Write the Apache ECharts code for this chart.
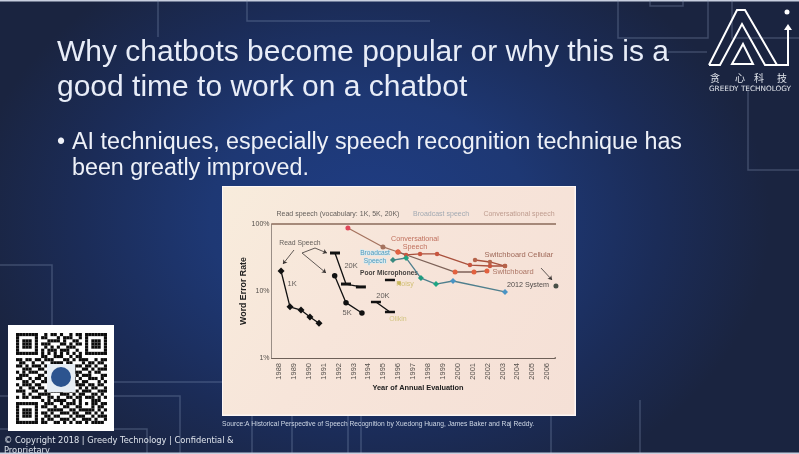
<!DOCTYPE html>
<html>
<head>
<meta charset="utf-8">
<title>Speech recognition word error rate</title>
<script src="https://cdn.jsdelivr.net/npm/echarts@6/dist/echarts.min.js"></script>
<style>
html, body { margin: 0; padding: 0; background: #1a2440; }
#main {
    width: 799px; height: 454px; overflow: hidden;
    background: radial-gradient(ellipse 400px 300px at 370px 220px, #1f3d84 0%, #1e3874 40%, #1b2c58 72%, #1a2440 100%);
}
</style>
</head>
<body>
<div id="main"></div>
<script>
var years = ['1988','1989','1990','1991','1992','1993','1994','1995','1996','1997','1998','1999','2000','2001','2002','2003','2004','2005','2006'];
var rateTicks = [1, 10, 100];

// year, word error rate %
var read1kX = [1988.14, 1988.74, 1989.48, 1990.08, 1990.69];
var read1kY = [19.9, 5.8, 5.2, 4.1, 3.3];
var read5kX = [1991.74, 1992.5, 1993.57];
var read5kY = [16.9, 6.7, 4.7];
var read20kX = [1991.76, 1992.5, 1993.5];
var read20kY = [36.9, 12.7, 11.5];
var noisy20kX = [1994.51, 1995.45];
var noisy20kY = [6.85, 4.86];
var poorMicX = [1995.45];
var poorMicY = [14.6];
var noisyX = [1996.06];
var noisyY = [13.2];
var broadcastX = [1995.65, 1996.53, 1997.53, 1998.54, 1999.68, 2003.17];
var broadcastY = [29.0, 31.1, 15.6, 12.7, 14.1, 9.7];
var conversationalX = [1992.63, 1994.98, 1995.99];
var conversationalY = [87.1, 45.4, 38.2];
var conversationalUpperX = [1995.99, 1996.53, 1997.47, 1998.61, 2000.82, 2002.16, 2003.17];
var conversationalUpperY = [38.2, 34.5, 35.7, 35.7, 24.4, 23.6, 23.6];
var switchboardX = [1995.99, 1999.82, 2001.09, 2001.96];
var switchboardY = [38.2, 19.2, 19.2, 19.9];
var cellularX = [2001.16, 2002.16, 2003.17];
var cellularY = [29.0, 27.1, 23.6];
var system2012X = [2006.59];
var system2012Y = [11.9];

var noteTexts = ['Read speech (vocabulary: 1K, 5K, 20K)', 'Broadcast speech', 'Conversational speech', 'Read Speech', '1K', '20K', '5K', '20K', 'Olikin', 'Poor Microphones', 'Noisy', 'Broadcast\nSpeech', 'Conversational\nSpeech', 'Switchboard Cellular', 'Switchboard', '2012 System'];
var noteX = [1991.96, 1998.88, 2004.11, 1989.41, 1988.88, 1992.84, 1992.57, 1994.98, 1995.99, 1995.39, 1996.46, 1994.45, 1997.13, 2004.1, 2003.71, 2004.71];
var noteY = [141, 141, 141, 52, 12.7, 23.6, 4.7, 8.4, 3.82, 18.6, 12.7, 32.2, 51.2, 34.5, 19.2, 12.3];

var noteColors = ['#3c3a38', '#8c9aa8', '#b08a7c', '#3c3a38', '#3c3a38', '#3c3a38', '#3c3a38', '#3c3a38', '#c9bd6a', '#111111', '#c9b75c', '#2f86b0', '#b2503c', '#8a4a38', '#9a5a48', '#222222'];
var noteSizes = [7, 7, 7, 6.8, 7.5, 7.5, 7.5, 7.5, 7, 6.6, 7, 6.6, 7.2, 7.5, 7.5, 7.2];
var broadcastDots = ['#3a8a80', '#1fa583', '#1f9a80', '#1fa583', '#4a94c4', '#4a94c4'];
var conversationalDots = ['#e0485a', '#a5735f', '#e0485a'];

var qrRows = [
    '11111110010110100101101111111',
    '10000010110001011100101000001',
    '10111010001111010011001011101',
    '10111010111000110101101011101',
    '10111010010101001110001011101',
    '10000010101110111001001000001',
    '11111110101010101010101111111',
    '00000000110011100101100000000',
    '11011011011100011010111001011',
    '01100100100111101100010110110',
    '11010111011000110011101101001',
    '00111001101101001110011010111',
    '10101110010000000011100101100',
    '01110001100000000001011100011',
    '11001011010000000010100111010',
    '00110100110000000011011000101',
    '10111011000000000001110110110',
    '01001101101100011100101011001',
    '11100110010111100101011100111',
    '00101001111000111010110011010',
    '10110111001101001101101110101',
    '00000000101011110010100011100',
    '11111110011100101110101011011',
    '10000010110010011001100010110',
    '10111010001111100110111110101',
    '10111010110100111011001101010',
    '10111010011011000101110010111',
    '10000010101100111010011101001',
    '11111110110011010101101011110'
];

function zip(xs, ys) {
    return xs.map(function (x, i) { return [x, ys[i]]; });
}

function lineSeries(name, xs, ys, color, symbol, size, dotColor) {
    return {
        name: name,
        type: 'line',
        xAxisIndex: 1,
        clip: false,
        silent: true,
        symbol: symbol,
        symbolSize: size,
        showAllSymbol: true,
        lineStyle: { color: color, width: 1.3 },
        itemStyle: { color: dotColor || color },
        data: zip(xs, ys)
    };
}

function txt(text, x, y, font, fill, align) {
    return {
        type: 'text', z: 5, silent: true,
        style: { text: text, x: x, y: y, font: font, fill: fill, align: align || 'left', verticalAlign: 'middle' }
    };
}

function path(points, closed, stroke, width) {
    return {
        type: closed ? 'polygon' : 'polyline', silent: true, z: 1,
        shape: { points: points },
        style: { stroke: stroke, lineWidth: width, fill: null }
    };
}

function buildQr() {
    var items = [{ type: 'rect', silent: true, z: 1, shape: { x: 8, y: 325, width: 106, height: 106 }, style: { fill: '#ffffff' } }];
    var cell = 91 / 29;
    qrRows.forEach(function (row, r) {
        row.split('').forEach(function (c, k) {
            if (c === '1') {
                items.push({ type: 'rect', silent: true, z: 2, shape: { x: 16 + k * cell, y: 333 + r * cell, width: cell, height: cell }, style: { fill: '#0c0c0c' } });
            }
        });
    });
    items.push({ type: 'rect', silent: true, z: 3, shape: { x: 47, y: 364, width: 28, height: 28 }, style: { fill: '#e6edf4' } });
    items.push({ type: 'circle', silent: true, z: 4, shape: { cx: 61, cy: 377, r: 10 }, style: { fill: '#2c548f' } });
    return items;
}

var faint = 'rgba(150,165,195,0.3)';
var backgroundLines = [
    [[158, 0], [158, 37]],
    [[247, 0], [247, 21], [430, 21]],
    [[618, 0], [618, 38], [708, 38], [708, 0]],
    [[650, 0], [650, 6], [683, 6], [683, 0]],
    [[668, 52], [707, 52]],
    [[732, 0], [732, 38], [799, 38]],
    [[748, 90], [748, 170], [799, 170]],
    [[0, 265], [52, 265], [52, 325]],
    [[114, 382], [222, 382]],
    [[0, 396], [180, 396], [180, 454]],
    [[0, 429], [147, 429], [147, 454]],
    [[252, 416], [252, 454]],
    [[292, 416], [292, 454]],
    [[348, 416], [348, 454]],
    [[361, 416], [361, 454]],
    [[551, 416], [551, 454]],
    [[640, 400], [640, 454]]
];

var slideGraphics = [
    {
        type: 'rect', z: 0, silent: true,
        shape: { x: 222, y: 186, width: 354, height: 230 },
        style: { fill: '#fdf6f4' }
    },
    {
        type: 'rect', z: 0, silent: true,
        shape: { x: 223, y: 187, width: 351.5, height: 227.5 },
        style: {
            fill: new echarts.graphic.LinearGradient(0, 0, 1, 1, [
                { offset: 0, color: '#f8ecdc' },
                { offset: 0.4, color: '#f7e5da' },
                { offset: 1, color: '#f5e0d6' }
            ])
        }
    },
    { type: 'rect', z: 0, silent: true, shape: { x: 0, y: 0, width: 799, height: 1.5 }, style: { fill: '#c8cfdf' } },
    { type: 'rect', z: 6, silent: true, shape: { x: 0, y: 452.5, width: 799, height: 1.5 }, style: { fill: '#c8cfdf' } }
];
backgroundLines.forEach(function (pts) {
    slideGraphics.push(path(pts, false, faint, 1.5));
});
slideGraphics = slideGraphics.concat(buildQr());
slideGraphics.push(
    path([[709, 65], [737, 10], [745, 10], [777, 65], [788, 65], [788, 28]], false, '#ffffff', 2),
    path([[709, 65], [720, 65], [742, 24], [765, 65], [777, 65]], false, '#ffffff', 2),
    path([[732, 64], [743, 44], [753, 64]], true, '#ffffff', 2),
    { type: 'polygon', silent: true, z: 2, shape: { points: [[784, 30], [788, 24], [792, 30]] }, style: { fill: '#ffffff' } },
    { type: 'circle', silent: true, z: 2, shape: { cx: 787, cy: 12, r: 2.5 }, style: { fill: '#ffffff' } },
    txt('贪', 715, 78, '10px "Noto Sans CJK SC"', '#dfe3ea', 'center'),
    txt('心', 740, 78, '10px "Noto Sans CJK SC"', '#dfe3ea', 'center'),
    txt('科', 759, 78, '10px "Noto Sans CJK SC"', '#dfe3ea', 'center'),
    txt('技', 782, 78, '10px "Noto Sans CJK SC"', '#dfe3ea', 'center'),
    txt('GREEDY TECHNOLOGY', 750, 89.5, '7.3px "DejaVu Sans"', '#e6e9ef', 'center'),
    txt('Why chatbots become popular or why this is a', 57, 53, '30px "Liberation Sans"', '#e8edf8'),
    txt('good time to work on a chatbot', 57, 88, '30px "Liberation Sans"', '#e8edf8'),
    txt('•', 57, 143, '23px "Liberation Sans"', '#eef1f8'),
    txt('AI techniques, especially speech recognition technique has', 72, 143, '23.3px "Liberation Sans"', '#eef1f8'),
    txt('been greatly improved.', 72, 169, '23.3px "Liberation Sans"', '#eef1f8'),
    txt('Source:A Historical Perspective of Speech Recognition by Xuedong Huang, James Baker and Raj Reddy.', 222, 424, '6.7px "Liberation Sans"', '#cfd8e6'),
    txt('© Copyright 2018 | Greedy Technology | Confidential &', 4, 441, '8.3px "DejaVu Sans"', '#dfe4ec'),
    txt('Proprietary', 4, 451, '8.3px "DejaVu Sans"', '#dfe4ec')
);

var chart = echarts.init(document.getElementById('main'));

var option = {
    animation: false,
    backgroundColor: 'transparent',
    textStyle: { fontFamily: '"Liberation Sans"' },
    graphic: { elements: slideGraphics },
    grid: { left: 271.5, top: 224, width: 283.1, height: 134 },
    xAxis: [{
        type: 'category',
        data: years,
        boundaryGap: true,
        name: 'Year of Annual Evaluation',
        nameLocation: 'middle',
        nameGap: 26,
        nameTextStyle: { color: '#222', fontSize: 7.4, fontWeight: 'bold', padding: [0, 0, 0, 10] },
        axisLine: { lineStyle: { color: '#6e6058', width: 1 } },
        axisTick: { inside: true, length: 2, lineStyle: { color: '#6e6058' } },
        axisLabel: { rotate: 90, interval: 0, color: '#55504c', fontSize: 7.5, margin: 5 }
    }, {
        // hidden scale the marks are placed on, one unit per year
        type: 'value',
        show: false,
        min: 1987.5,
        max: 2006.5
    }],
    yAxis: {
        type: 'log',
        logBase: 10,
        min: rateTicks[0],
        max: rateTicks[2],
        name: 'Word Error Rate',
        nameLocation: 'middle',
        nameGap: 22,
        nameTextStyle: { color: '#222', fontSize: 8.8, fontWeight: 'bold' },
        axisLine: { show: true, lineStyle: { color: '#9a8e86', width: 1 } },
        axisTick: { show: false },
        splitLine: { show: false },
        minorTick: { show: false },
        axisLabel: { color: '#55504c', fontSize: 7, margin: 2, formatter: function (v) { return v + '%'; } }
    },
    series: [
        lineSeries('rule', [1987.5, 2006.93], [100, 100], '#8a6a5a', 'none', 0),
        lineSeries('baseline', [2006.5, 2006.93], [1, 1], '#6e6058', 'none', 0),
        lineSeries('1K', read1kX, read1kY, '#111', 'diamond', 7),
        lineSeries('5K', read5kX, read5kY, '#111', 'circle', 5.5),
        lineSeries('20K', read20kX, read20kY, '#111', 'rect', [10, 3]),
        lineSeries('20K noisy', noisy20kX, noisy20kY, '#111', 'rect', [10, 2.5]),
        lineSeries('Poor microphones', poorMicX, poorMicY, '#111', 'rect', [10, 2.5]),
        lineSeries('Noisy', noisyX, noisyY, '#c9b75c', 'circle', 4),
        lineSeries('Conversational', conversationalX, conversationalY, '#a5735f', 'circle', 5, function (p) { return conversationalDots[p.dataIndex]; }),
        lineSeries('Conversational upper', conversationalUpperX, conversationalUpperY, '#a9503c', 'circle', 4.5, '#c8553f'),
        lineSeries('Switchboard', switchboardX, switchboardY, '#7d6258', 'circle', 5, '#e2613f'),
        lineSeries('Switchboard Cellular', cellularX, cellularY, '#a9503c', 'circle', 4.5, '#b5634a'),
        lineSeries('Broadcast', broadcastX, broadcastY, '#4f7f8d', 'diamond', 6, function (p) { return broadcastDots[p.dataIndex]; }),
        {
            name: '2012 System',
            type: 'scatter',
            xAxisIndex: 1,
            clip: false,
            silent: true,
            symbolSize: 5,
            itemStyle: { color: '#1c2a22' },
            data: zip(system2012X, system2012Y)
        },
        {
            name: 'notes',
            type: 'scatter',
            xAxisIndex: 1,
            clip: false,
            silent: true,
            symbolSize: 0,
            data: noteTexts.map(function (t, i) {
                return {
                    value: [noteX[i], noteY[i]],
                    label: {
                        show: true,
                        position: 'inside',
                        formatter: t,
                        color: noteColors[i],
                        fontSize: noteSizes[i],
                        lineHeight: 8,
                        fontWeight: t === 'Poor Microphones' ? 'bold' : 'normal',
                        textBorderColor: t === 'Broadcast\nSpeech' ? '#d6ecf2' : 'transparent',
                        textBorderWidth: t === 'Broadcast\nSpeech' ? 1.5 : 0
                    }
                };
            })
        },
        {
            name: 'pointers',
            type: 'line',
            xAxisIndex: 1,
            clip: false,
            silent: true,
            symbol: 'none',
            data: [],
            markLine: {
                silent: true,
                animation: false,
                symbol: ['none', 'arrow'],
                symbolSize: 4,
                label: { show: false },
                lineStyle: { color: '#3a3533', width: 0.8, type: 'solid' },
                data: [
                    [{ coord: [1989.01, 40.9] }, { coord: [1988.27, 25.3] }],
                    [{ coord: [1989.55, 36.9] }, { coord: [1991.16, 18.6] }],
                    [{ coord: [1989.55, 36.9] }, { coord: [1990.42, 43.8], symbol: 'none' }],
                    [{ coord: [1990.42, 43.8] }, { coord: [1991.22, 36.9] }],
                    [{ coord: [2005.59, 22.0] }, { coord: [2006.33, 14.6] }]
                ]
            }
        }
    ]
};

chart.setOption(option);
</script>
</body>
</html>
